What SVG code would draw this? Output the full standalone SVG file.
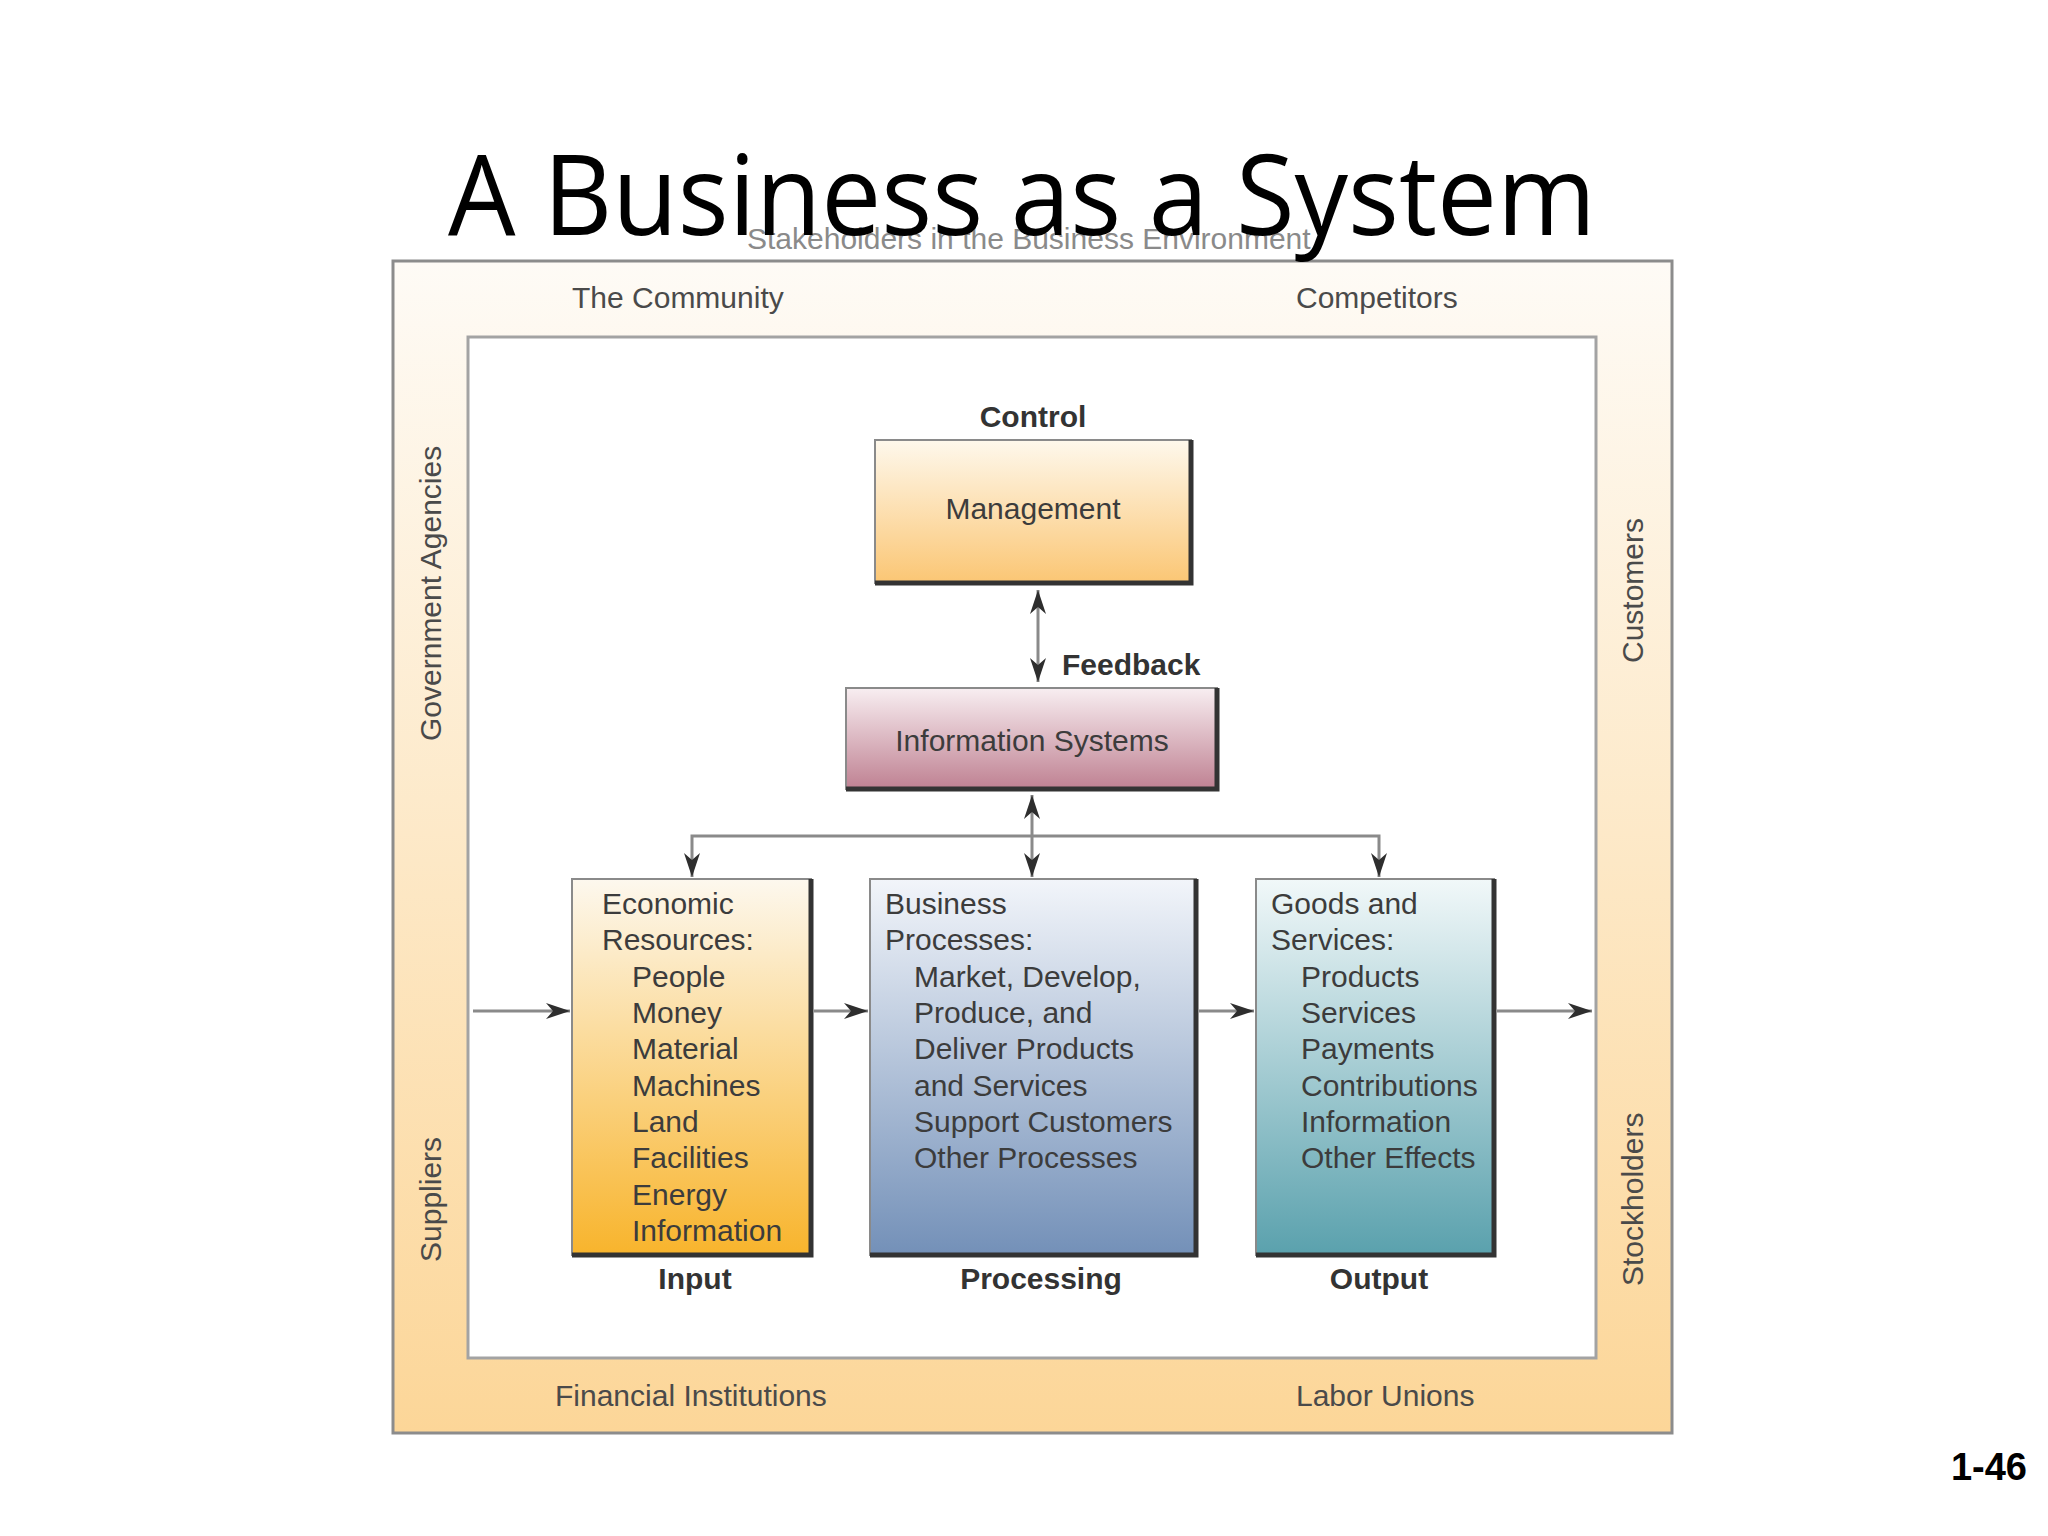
<svg xmlns="http://www.w3.org/2000/svg" width="2048" height="1536" viewBox="0 0 2048 1536">
<style>
.t{font-family:"Liberation Sans",Arial,sans-serif;font-size:30px;fill:#4a4a4a}
.b{font-family:"Liberation Sans",Arial,sans-serif;font-size:30px;font-weight:bold;fill:#333}
.bx{font-family:"Liberation Sans",Arial,sans-serif;font-size:30px;fill:#3c3c3c}
.edge{stroke:#333;stroke-width:5;fill:none}
.line{stroke:#8a8a8a;stroke-width:3;fill:none}
</style>
<defs>
<linearGradient id="gOuter" x1="0" y1="0" x2="0" y2="1"><stop offset="0" stop-color="#fefbf6"/><stop offset="1" stop-color="#fcd698"/></linearGradient>
<linearGradient id="gMgmt" x1="0" y1="0" x2="0" y2="1"><stop offset="0" stop-color="#fef8ec"/><stop offset="1" stop-color="#fbc674"/></linearGradient>
<linearGradient id="gIS" x1="0" y1="0" x2="0" y2="1"><stop offset="0" stop-color="#f8eef1"/><stop offset="1" stop-color="#bf8192"/></linearGradient>
<linearGradient id="gIn" x1="0" y1="0" x2="0" y2="1"><stop offset="0" stop-color="#fdf8ee"/><stop offset="1" stop-color="#f8b42c"/></linearGradient>
<linearGradient id="gProc" x1="0" y1="0" x2="0" y2="1"><stop offset="0" stop-color="#f2f5fa"/><stop offset="1" stop-color="#7390b8"/></linearGradient>
<linearGradient id="gOut" x1="0" y1="0" x2="0" y2="1"><stop offset="0" stop-color="#f1f8f9"/><stop offset="1" stop-color="#5aa1ad"/></linearGradient>
<marker id="arr" viewBox="0 0 24 16" refX="24" refY="8" markerWidth="24" markerHeight="16" markerUnits="userSpaceOnUse" orient="auto-start-reverse">
<path d="M0,0 L24,8 L0,16 L7,8 z" fill="#2e2e2e"/>
</marker>
</defs>
<rect width="2048" height="1536" fill="#fff"/>

<g id="environment">
<rect x="393" y="261" width="1279" height="1172" fill="url(#gOuter)" stroke="#8c8c8c" stroke-width="3"/>
<rect x="468" y="337" width="1128" height="1021" fill="#fff" stroke="#a3a3a3" stroke-width="3"/>
<text class="t" x="747" y="249" style="fill:#8a8a8a">Stakeholders in the Business Environment</text>
<text class="t" x="572" y="308">The Community</text>
<text class="t" x="1296" y="308">Competitors</text>
<text class="t" x="555" y="1406">Financial Institutions</text>
<text class="t" x="1296" y="1406">Labor Unions</text>
<text class="t" transform="translate(441,741) rotate(-90)">Government Agencies</text>
<text class="t" transform="translate(441,1262) rotate(-90)">Suppliers</text>
<text class="t" transform="translate(1643,663) rotate(-90)">Customers</text>
<text class="t" transform="translate(1643,1286) rotate(-90)">Stockholders</text>
</g>

<text x="1022" y="235" text-anchor="middle" textLength="1148" lengthAdjust="spacingAndGlyphs" style="font-family:'Open Sans','Noto Sans',sans-serif;font-size:112px;fill:#000">A Business as a System</text>

<g id="connectors">
<line class="line" x1="1038" y1="590" x2="1038" y2="682" marker-start="url(#arr)" marker-end="url(#arr)"/>
<line class="line" x1="1032" y1="795" x2="1032" y2="877" marker-start="url(#arr)" marker-end="url(#arr)"/>
<polyline class="line" points="692,877 692,836 1379,836 1379,877" marker-start="url(#arr)" marker-end="url(#arr)"/>
<line class="line" x1="473" y1="1011" x2="570" y2="1011" marker-end="url(#arr)"/>
<line class="line" x1="814" y1="1011" x2="868" y2="1011" marker-end="url(#arr)"/>
<line class="line" x1="1199" y1="1011" x2="1254" y2="1011" marker-end="url(#arr)"/>
<line class="line" x1="1497" y1="1011" x2="1592" y2="1011" marker-end="url(#arr)"/>
<text class="b" x="1062" y="675">Feedback</text>
</g>

<g id="management">
<text class="b" x="1033" y="427" text-anchor="middle">Control</text>
<rect x="875" y="440" width="316" height="143" fill="url(#gMgmt)" stroke="#8a8a8a" stroke-width="2"/>
<polyline class="edge" points="1191,440 1191,583 875,583"/>
<text class="bx" x="1033" y="519" text-anchor="middle">Management</text>
</g>

<g id="information-systems">
<rect x="846" y="688" width="371" height="101" fill="url(#gIS)" stroke="#8a8a8a" stroke-width="2"/>
<polyline class="edge" points="1217,688 1217,789 846,789"/>
<text class="bx" x="1032" y="751" text-anchor="middle">Information Systems</text>
</g>

<g id="input">
<rect x="572" y="879" width="239" height="376" fill="url(#gIn)" stroke="#8a8a8a" stroke-width="2"/>
<polyline class="edge" points="811,879 811,1255 572,1255"/>
<text class="bx"><tspan x="602" y="914">Economic</tspan><tspan x="602" y="950">Resources:</tspan><tspan x="632" y="987">People</tspan><tspan x="632" y="1023">Money</tspan><tspan x="632" y="1059">Material</tspan><tspan x="632" y="1096">Machines</tspan><tspan x="632" y="1132">Land</tspan><tspan x="632" y="1168">Facilities</tspan><tspan x="632" y="1205">Energy</tspan><tspan x="632" y="1241">Information</tspan></text>
<text class="b" x="695" y="1289" text-anchor="middle">Input</text>
</g>

<g id="processing">
<rect x="870" y="879" width="326" height="376" fill="url(#gProc)" stroke="#8a8a8a" stroke-width="2"/>
<polyline class="edge" points="1196,879 1196,1255 870,1255"/>
<text class="bx"><tspan x="885" y="914">Business</tspan><tspan x="885" y="950">Processes:</tspan><tspan x="914" y="987">Market, Develop,</tspan><tspan x="914" y="1023">Produce, and</tspan><tspan x="914" y="1059">Deliver Products</tspan><tspan x="914" y="1096">and Services</tspan><tspan x="914" y="1132">Support Customers</tspan><tspan x="914" y="1168">Other Processes</tspan></text>
<text class="b" x="1041" y="1289" text-anchor="middle">Processing</text>
</g>

<g id="output">
<rect x="1256" y="879" width="238" height="376" fill="url(#gOut)" stroke="#8a8a8a" stroke-width="2"/>
<polyline class="edge" points="1494,879 1494,1255 1256,1255"/>
<text class="bx"><tspan x="1271" y="914">Goods and</tspan><tspan x="1271" y="950">Services:</tspan><tspan x="1301" y="987">Products</tspan><tspan x="1301" y="1023">Services</tspan><tspan x="1301" y="1059">Payments</tspan><tspan x="1301" y="1096">Contributions</tspan><tspan x="1301" y="1132">Information</tspan><tspan x="1301" y="1168">Other Effects</tspan></text>
<text class="b" x="1379" y="1289" text-anchor="middle">Output</text>
</g>

<text x="2027" y="1480" text-anchor="end" style="font-family:'Liberation Sans',Arial,sans-serif;font-size:38px;font-weight:bold;fill:#000">1-46</text>
</svg>
